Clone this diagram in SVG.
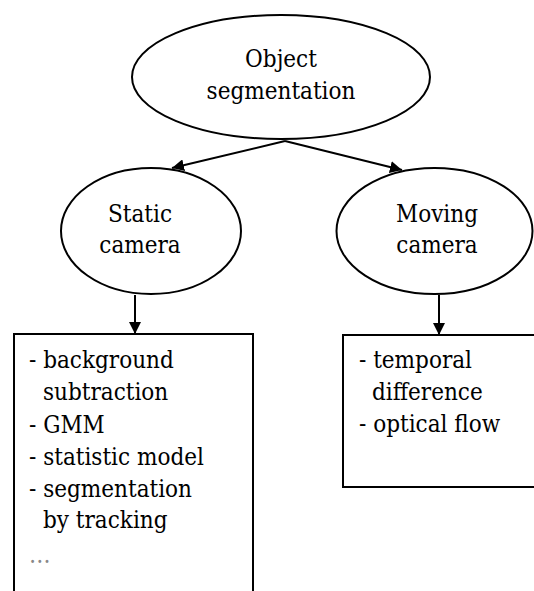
<svg xmlns="http://www.w3.org/2000/svg" width="534" height="591" viewBox="0 0 534 591">
<defs>
<style>
.shape{fill:#fff;stroke:#000;stroke-width:2}
.c{text-anchor:middle}
.edge{stroke:#000;stroke-width:2;fill:none}
</style>
<marker id="ah" viewBox="0 0 12 12" refX="12" refY="6" markerWidth="12" markerHeight="12" markerUnits="userSpaceOnUse" orient="auto">
<path d="M0,0 L12,6 L0,12 Z" fill="#000"/>
</marker>
</defs>
<rect width="534" height="591" fill="#fff"/>
<g id="connectors">
<line class="edge" x1="285" y1="141" x2="172" y2="168" marker-end="url(#ah)"/>
<line class="edge" x1="285" y1="141" x2="402" y2="170" marker-end="url(#ah)"/>
<line class="edge" x1="135" y1="295" x2="135" y2="334" marker-end="url(#ah)"/>
<line class="edge" x1="439" y1="295" x2="439" y2="335" marker-end="url(#ah)"/>
</g>
<g font-family="'DejaVu Serif Condensed', 'DejaVu Serif', serif" font-stretch="condensed" font-size="24" fill="#000">
<g id="object-segmentation">
<ellipse class="shape" cx="281" cy="77" rx="149" ry="62"/>
<text class="c" x="281" y="67">Object</text>
<text class="c" x="281" y="99">segmentation</text>
</g>
<g id="static-camera">
<ellipse class="shape" cx="151" cy="231" rx="90" ry="63"/>
<text class="c" x="140" y="222">Static</text>
<text class="c" x="140" y="253">camera</text>
</g>
<g id="moving-camera">
<ellipse class="shape" cx="434.5" cy="231" rx="98" ry="63"/>
<text class="c" x="437" y="222">Moving</text>
<text class="c" x="437" y="253">camera</text>
</g>
<g id="static-methods">
<rect class="shape" x="14" y="334" width="239" height="270"/>
<text x="29" y="368">- background</text>
<text x="43" y="400">subtraction</text>
<text x="29" y="433">- GMM</text>
<text x="29" y="465">- statistic model</text>
<text x="29" y="497">- segmentation</text>
<text x="43" y="528">by tracking</text>
<text x="29" y="563" fill="#888">…</text>
</g>
<g id="moving-methods">
<rect class="shape" x="343" y="335" width="200" height="152"/>
<text x="359" y="368">- temporal</text>
<text x="372" y="400">difference</text>
<text x="359" y="432">- optical flow</text>
</g>
</g>
</svg>
